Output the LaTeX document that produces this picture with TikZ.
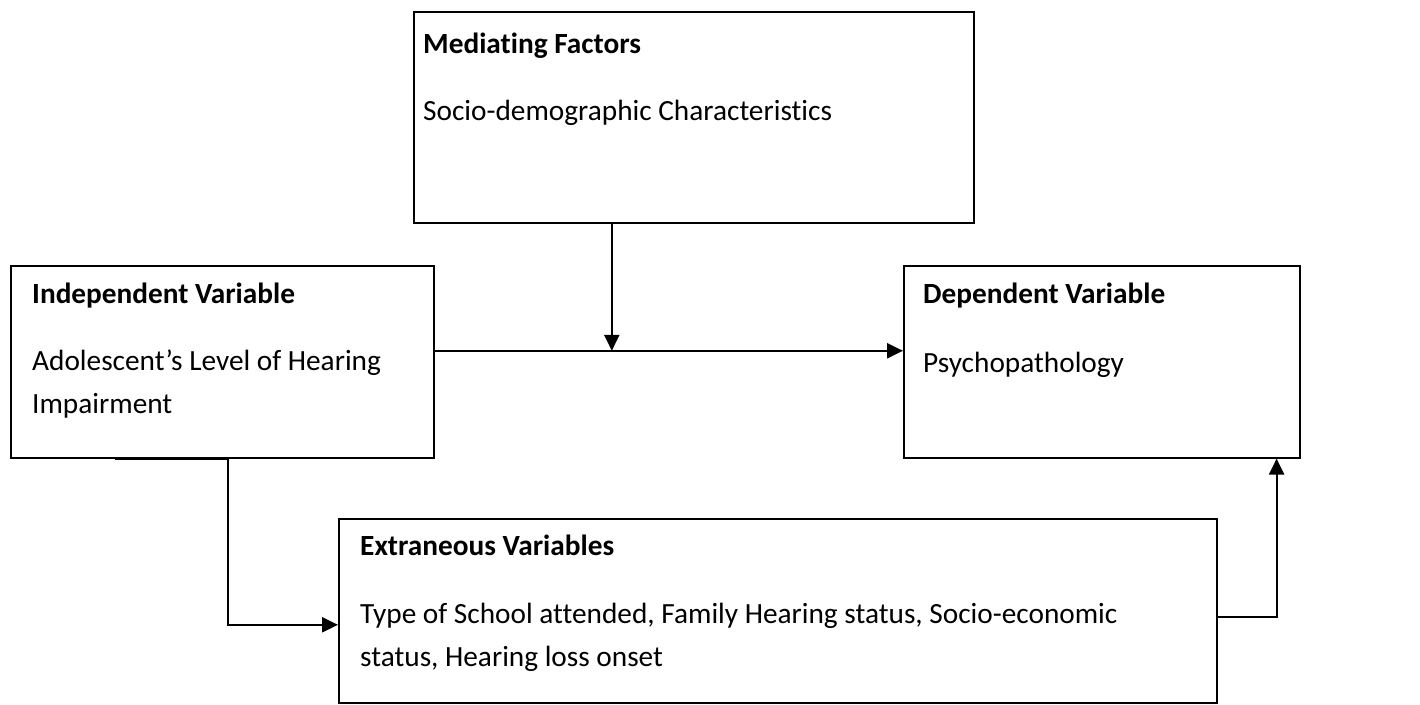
\documentclass[tikz,border=0pt]{standalone}
\usepackage{fontspec}
\setmainfont{Carlito}[Ligatures=NoCommon]
\usetikzlibrary{positioning,arrows.meta,calc}

\begin{document}
\begin{tikzpicture}[
  x=1pt,y=1pt,
  box/.style={draw=black,line width=1.6pt,anchor=north west,inner sep=0pt},
  txt/.style={anchor=north west,align=left,inner sep=0pt,font=\fontsize{29.3}{43}\selectfont},
  arr/.style={-{Triangle[length=16pt,width=15pt]},line width=2.2pt,draw=black}]
  \useasboundingbox (0,0) rectangle (1420,-704);
  \node[box,minimum width=560pt,minimum height=211pt] (med) at (413,-11) {};
  \node[box,minimum width=423pt,minimum height=192pt] (ind) at (10,-265) {};
  \node[box,minimum width=396pt,minimum height=192pt] (dep) at (903,-265) {};
  \node[box,minimum width=878pt,minimum height=184pt] (ext) at (338,-518) {};
  % texts inside the boxes
  \node[txt] (medtxt) at ([xshift=10pt,yshift=-21.5pt]med.north west) {\textbf{Mediating Factors}\\[24pt]Socio-demographic Characteristics};
  \node[txt] (indtxt) at ([xshift=22pt,yshift=-17.5pt]ind.north west) {\textbf{Independent Variable}\\[24pt]Adolescent’s Level of Hearing\\Impairment};
  \node[txt] (deptxt) at ([xshift=20pt,yshift=-17.5pt]dep.north west) {\textbf{Dependent Variable}\\[26pt]Psychopathology};
  \node[txt] (exttxt) at ([xshift=22pt,yshift=-16.5pt]ext.north west) {\textbf{Extraneous Variables}\\[25pt]Type of School attended, Family Hearing status, Socio-economic\\status, Hearing loss onset};
  % connectors
  \coordinate (mid) at ([yshift=11pt]ind.east);
  \coordinate (medfoot) at ([xshift=-82pt]med.south);
  \coordinate (indfoot) at ([xshift=105pt]ind.south west);
  \coordinate (extin) at ([yshift=-14pt]ext.west);
  \coordinate (extout) at ([yshift=-6pt]ext.east);
  \coordinate (depin) at ([xshift=-24pt]dep.south east);
  \draw[arr] (mid) -- (mid -| dep.west);
  \draw[arr] (medfoot) -- (medfoot |- mid);
  \draw[arr] (indfoot) -- ++(113,0) |- (extin);
  \draw[arr] (extout) -| (depin);
\end{tikzpicture}
\end{document}
